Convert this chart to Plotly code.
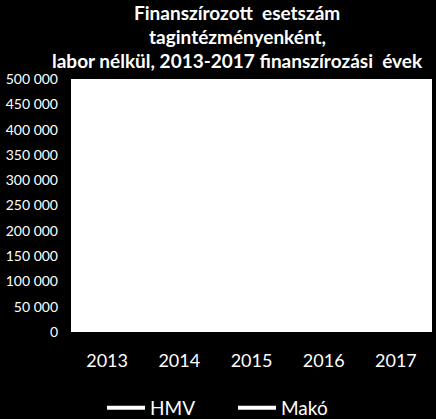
import plotly.graph_objects as go

years = ["2013", "2014", "2015", "2016", "2017"]
# the series are drawn in white on the white plot area, so values are estimates
hmv = [330000, 335000, 340000, 338000, 342000]
mako = [45000, 46000, 47000, 46500, 48000]
y_ticks = list(range(0, 500001, 50000))
y_labels = ["{:,}".format(v).replace(",", " ") for v in y_ticks]

title_lines = ["Finanszírozott  esetszám",
               "tagintézményenként,",
               "labor nélkül, 2013-2017 finanszírozási  évek"]

font = "Lato, 'Open Sans', sans-serif"
W, H = 436, 419
L, R, T, B = 71, 4, 79, 87

fig = go.Figure()
fig.add_trace(go.Scatter(x=years, y=hmv, name="HMV", mode="lines",
                         line=dict(color="white", width=4)))
fig.add_trace(go.Scatter(x=years, y=mako, name="Makó", mode="lines",
                         line=dict(color="white", width=4)))

# title lines placed by pixel centre
for txt, py_ in zip(title_lines, [12, 36, 60]):
    fig.add_annotation(text="<b>" + txt + "</b>",
                       x=(237 - L) / (W - L - R),
                       y=(H - py_ - B) / (H - T - B),
                       xref="paper", yref="paper", showarrow=False,
                       xanchor="center", yanchor="middle",
                       font=dict(family=font, size=19, color="white"))

fig.update_layout(
    width=W, height=H,
    margin=dict(l=L, r=R, t=T, b=B, autoexpand=False),
    paper_bgcolor="black", plot_bgcolor="white",
    font=dict(family=font, color="white"),
    showlegend=True,
    legend=dict(orientation="h", x=(102 - L) / (W - L - R), xanchor="left",
                y=(H - 408 - B) / (H - T - B), yanchor="middle",
                font=dict(size=19, color="white"),
                entrywidth=78, entrywidthmode="pixels", itemwidth=38,
                bgcolor="rgba(0,0,0,0)"),
)

fig.update_xaxes(showgrid=False, zeroline=False, showline=False,
                 automargin=False,
                 tickfont=dict(size=18, color="white"), ticklabelstandoff=16,
                 range=[-0.5, 4.5])
fig.update_yaxes(range=[0, 500000], tickvals=y_ticks, ticktext=y_labels,
                 showgrid=False, zeroline=False, showline=False,
                 automargin=False,
                 tickfont=dict(size=14, color="white"), ticklabelstandoff=12)

# drop the page's default body margin so the figure sits at the window corner
fig.write_html("out.html", config={"displayModeBar": False},
               post_script="document.body.style.margin='0';"
                           "document.body.style.background='black';")
